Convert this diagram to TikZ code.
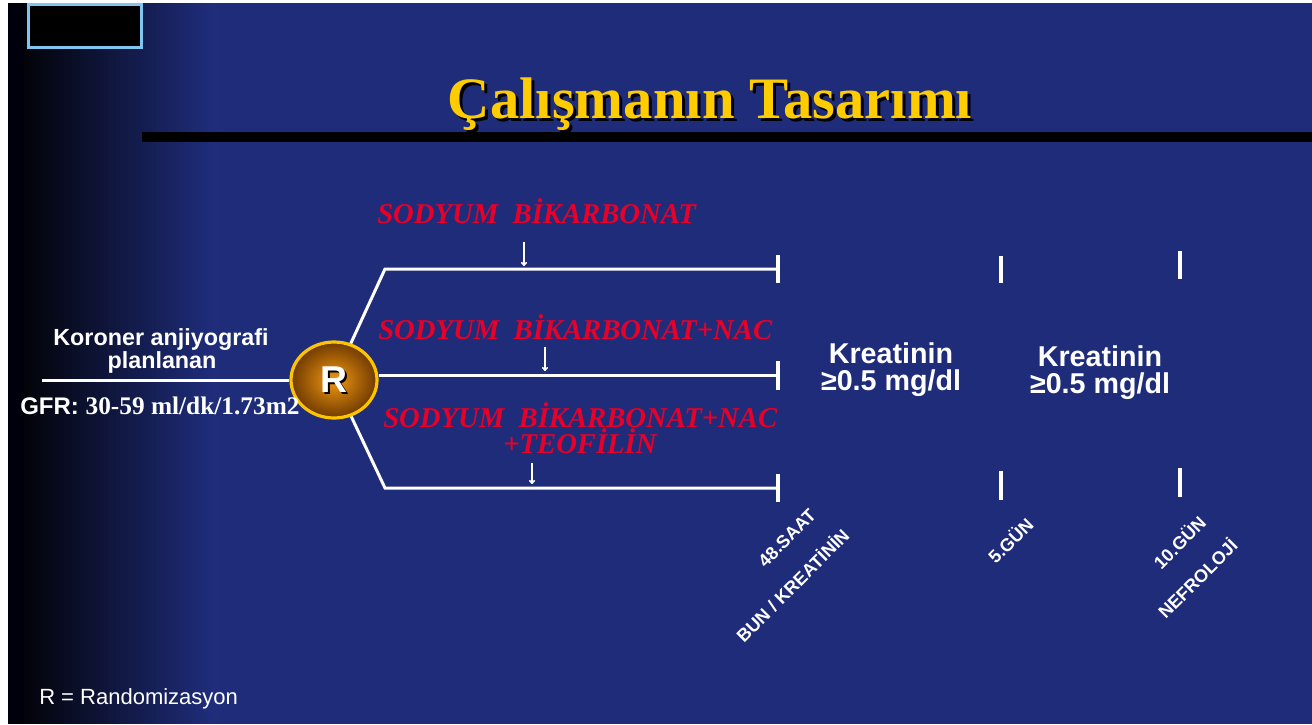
\documentclass[tikz,border=0pt]{standalone}
\usepackage{fontspec}
\setmainfont{Liberation Serif}
\setsansfont{Liberation Sans}
\usetikzlibrary{shapes.geometric,arrows.meta}
\definecolor{slideblue}{RGB}{31,44,121}
\definecolor{titleyellow}{RGB}{255,204,0}
\definecolor{drugred}{RGB}{232,0,40}
\definecolor{ringgold}{RGB}{255,196,0}
\definecolor{boxblue}{RGB}{128,198,240}
\definecolor{ballorange}{RGB}{242,152,18}
\definecolor{ballbrown}{RGB}{112,58,0}

\begin{document}
\begin{tikzpicture}[x=0.75pt,y=-0.75pt,
  wline/.style={white,line width=2.25pt},
  tickline/.style={white,line width=2.4pt},
  drug/.style={text=drugred,font=\rmfamily\bfseries\itshape\fontsize{21.5}{24}\selectfont,inner sep=0pt,anchor=base west},
  info/.style={text=white,font=\sffamily\bfseries\fontsize{17.5}{20}\selectfont,inner sep=0pt,anchor=base},
  lab/.style={text=white,font=\sffamily\bfseries\fontsize{21.5}{24}\selectfont,inner sep=0pt,anchor=base},
  daylab/.style={text=white,font=\sffamily\bfseries\fontsize{13.5}{15}\selectfont,inner sep=0pt,rotate=45},
  dose/.style={white,line width=1.1pt,-{To[length=3pt,width=4.5pt]}},
  rball/.style={ellipse,minimum width=64.5pt,minimum height=57pt,draw=ringgold,line width=2.4pt,
    inner color=ballorange,outer color=ballbrown},
  rtext/.style={font=\sffamily\bfseries\fontsize{28}{30}\selectfont,inner sep=0pt}
]
\useasboundingbox (0,0) rectangle (1312,724);
% slide background
\fill[white] (0,0) rectangle (1312,724);
\fill[slideblue] (8,3) rectangle (1312,724);
\fill[black!95!blue] (8,3) rectangle (24,724);
\foreach \i in {0,...,47}
  \fill[slideblue!\the\numexpr 8+\i*2\relax!black] ({24+4*\i},3) rectangle ({28.6+4*\i},724);
\draw[boxblue,line width=2.25pt,fill=black] (28.5,4.5) rectangle (141.5,47.5);
\fill[black] (142,132) rectangle (1312,142);

% title
\node[font=\rmfamily\bfseries\fontsize{44}{48}\selectfont,text=black,anchor=base] (titleshadow) at (713,121) {Çalışmanın Tasarımı};
\node[font=\rmfamily\bfseries\fontsize{44}{48}\selectfont,text=titleyellow,anchor=base] (title) at (710,118) {Çalışmanın Tasarımı};

% randomisation
\node[rball] (R) at (334,380) {};
\node[rtext,text=black] (Rshadow) at ([shift={(2,2)}]R.center) {R};
\node[rtext,text=white] (Rlabel) at (R.center) {R};

\coordinate (start) at (42,380);
\coordinate (upcorner) at (385,269);
\coordinate (upend) at (778,269);
\coordinate (midend) at (778,375);
\coordinate (lowcorner) at (385,488);
\coordinate (lowend) at (778,488);

\draw[wline] (start) -- (R);
\draw[wline] (R) -- (upcorner) -- (upend);
\draw[wline] (R.east |- midend) -- (midend);
\draw[wline] (R) -- (lowcorner) -- (lowend);

% time marks
\foreach \x/\ya/\yb in {778/255/283,778/361/390,778/474/502,1001/256/283,1001/471/500,1180/251/279,1180/468/497}
  \draw[tickline] (\x,\ya) -- (\x,\yb);

% treatment arms
\node[drug] (arm1) at (377,223) {SODYUM\ \ BİKARBONAT};
\node[drug] (arm2) at (378,339) {SODYUM\ \ BİKARBONAT+NAC};
\node[drug] (arm3) at (383,427) {SODYUM\ \ BİKARBONAT+NAC};
\node[drug] (arm3b) at (503,453) {+TEOFİLİN};

\coordinate (dose1a) at (524,242);
\coordinate (dose1b) at (524,266);
\coordinate (dose2a) at (545,347);
\coordinate (dose2b) at (545,371);
\coordinate (dose3a) at (532,463);
\coordinate (dose3b) at (532,484);
\draw[dose] (dose1a) -- (dose1b);
\draw[dose] (dose2a) -- (dose2b);
\draw[dose] (dose3a) -- (dose3b);

% patients
\node[info] (pat1) at (161,345) {Koroner anjiyografi};
\node[info] (pat2) at (162,368) {planlanan};
\node[text=white,inner sep=0pt,anchor=base west] (gfr) at (20,414)
  {\sffamily\bfseries\fontsize{18}{20}\selectfont GFR: \rmfamily\fontsize{19}{20}\selectfont 30-59 ml/dk/1.73m2};

% outcomes
\node[lab] (cr1) at (891,363) {Kreatinin};
\node[lab] (cr1b) at (891,390) {≥0.5 mg/dl};
\node[lab] (cr2) at (1100,366) {Kreatinin};
\node[lab] (cr2b) at (1100,393) {≥0.5 mg/dl};

% time labels
\node[daylab] (t48) at (787,538) {48.SAAT};
\node[daylab] (t48b) at (792,585) {BUN / KREATİNİN};
\node[daylab] (t5) at (1010,540) {5.GÜN};
\node[daylab] (t10) at (1179,542) {10.GÜN};
\node[daylab] (t10b) at (1197,578) {NEFROLOJİ};

\node[text=white,font=\sffamily\fontsize{16.5}{18}\selectfont,inner sep=0pt,anchor=base west] (legend) at (39,704) {R = Randomizasyon};
\end{tikzpicture}
\end{document}
